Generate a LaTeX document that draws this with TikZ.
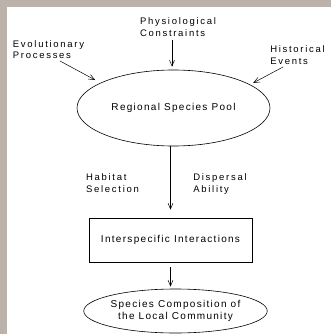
\documentclass[tikz,border=0pt]{standalone}
\usepackage{fontspec}
\setmainfont{Liberation Sans}
\newfontfamily\labfont[LetterSpace=18]{Liberation Sans}
\newfontfamily\boxfont[LetterSpace=13]{Liberation Sans}
\usetikzlibrary{arrows.meta,shapes.geometric}
\begin{document}
\begin{tikzpicture}[x=1pt,y=-1pt,
  lab/.style={font=\labfont\fontsize{9.5}{11.5}\selectfont, align=left, inner sep=1pt},
  maintxt/.style={font=\boxfont\fontsize{10}{12}\selectfont, align=center},
  oval/.style={draw, ellipse, line width=0.6pt, inner sep=0pt},
  rectbox/.style={draw, rectangle, line width=0.6pt, inner sep=0pt},
  arr/.style={line width=0.5pt, -{Straight Barb[length=6pt,width=5pt]}}]
\useasboundingbox (0,0) rectangle (331,334);
\fill[white] (0,0) rectangle (331,334);
\fill[gray!75!brown!60] (0,0) rectangle (7,334);
\fill[gray!75!brown!60] (0,0) rectangle (331,7);
% nodes
\node[oval, minimum width=193pt, minimum height=76pt, maintxt] (pool) at (173.5,108) {Regional Species Pool};
\node[lab] (phys) at (178,27) {Physiological\\Constraints};
\node[lab] (evo) at (48.5,49.5) {Evolutionary\\Processes};
\node[lab] (hist) at (297.5,55) {Historical\\Events};
\node[lab] (hab) at (112.5,183) {Habitat\\Selection};
\node[lab] (disp) at (220,184) {Dispersal\\Ability};
\node[rectbox, minimum width=163pt, minimum height=44pt, maintxt] (inter) at (170.5,240) {Interspecific Interactions};
\node[oval, minimum width=179pt, minimum height=44pt, maintxt, font=\boxfont\fontsize{10}{12}\selectfont] (comm) at (175.5,311) {Species Composition of\\the Local Community};
% connector start points
\coordinate (evoA) at (60,61);
\coordinate (histA) at (283,67);
\coordinate (physA) at (172,40);
% connectors
\draw[arr, shorten >=3pt] (physA) -- (physA |- pool.north);
\draw[arr, shorten >=6pt] (evoA) -- (pool.161);
\draw[arr, shorten >=3.5pt] (histA) -- (pool.17);
\draw[arr, shorten >=8pt] (inter.north |- pool.south) -- (inter.north);
\draw[arr, shorten <=5pt, shorten >=2pt] (inter.south) -- (comm.north -| inter.south);
\end{tikzpicture}
\end{document}
